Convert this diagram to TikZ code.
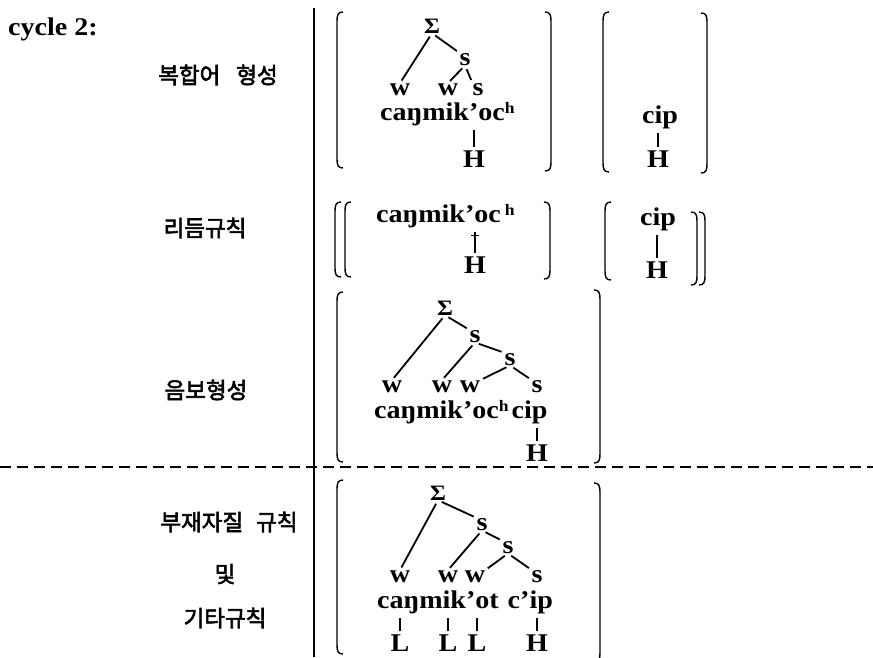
\documentclass[tikz,border=0pt]{standalone}
\usepackage{fontspec}
\setmainfont{Liberation Serif}[FakeStretch=1.1]
\newfontfamily\krfont{Noto Sans CJK KR}[FakeBold=2.6]
\newcommand\suph[1]{{\fontsize{16}{16}\selectfont\raisebox{7pt}{#1}}}
% left and right brackets with short curled ends: x, top, bottom
\newcommand\LBr[3]{\draw[br] (#1+6,#2) .. controls (#1+1,#2) and (#1,#2+3) .. (#1,#2+9) -- (#1,#3-9) .. controls (#1,#3-3) and (#1+1,#3) .. (#1+6,#3);}
\newcommand\RBr[3]{\draw[br] (#1-6,#2) .. controls (#1-1,#2) and (#1,#2+3) .. (#1,#2+9) -- (#1,#3-9) .. controls (#1,#3-3) and (#1-1,#3) .. (#1-6,#3);}
\tikzset{
  tx/.style={font=\fontsize{25.5}{27}\selectfont\bfseries, inner sep=0pt, anchor=base},
  sig/.style={tx, font=\fontsize{22}{24}\selectfont\bfseries},
  lab/.style={font=\krfont\fontsize{22.5}{25}\selectfont, inner sep=0pt},
  br/.style={line width=1.4pt},
  branch/.style={line width=1.8pt, shorten <=4pt, shorten >=3pt},
  tone/.style={line width=1.1pt, shorten <=3pt, shorten >=4pt},
  divider/.style={line width=1.6pt},
  sep/.style={line width=1.5pt, dash pattern=on 11pt off 6pt},
}
\begin{document}
\begin{tikzpicture}[x=1pt,y=-1pt]
\useasboundingbox (0,0) rectangle (873,657);

% heading and rule names
\node[tx, anchor=base west] (cyc) at (8,35) {cycle 2:};
\node[lab] (k1) at (218,75) {복합어\hspace{16pt}형성};
\node[lab] (k2) at (205,228) {리듬규칙};
\node[lab] (k3) at (206,390) {음보형성};
\node[lab] (k4) at (229,522) {부재자질\hspace{13pt}규칙};
\node[lab] (k5) at (225,574) {및};
\node[lab] (k6) at (225,618) {기타규칙};

% divider and separator
\coordinate (dtop) at (314,8);
\coordinate (dbot) at (314,657);
\draw[divider] (dtop) -- (dbot);
\coordinate (sl) at (0,467);
\coordinate (sr) at (873,467);
\draw[sep] (sl) -- (sr);

% ---- row 1: compound formation
\LBr{337}{12}{168}
\RBr{551}{12}{171}
\LBr{603}{12}{172}
\RBr{707}{13}{173}
\node[sig] (aS) at (432,33) {Σ};
\node[tx] (as1) at (465,65) {s};
\node[tx] (aw1) at (400,95) {w};
\node[tx] (aw2) at (448,95) {w};
\node[tx] (as2) at (478,95) {s};
\node[tx, anchor=base west] (aword) at (380,120) {caŋmik’oc\suph{h}};
\node[tx] (aH) at (474,167) {H};
\node[tx] (acip) at (660,123) {cip};
\node[tx] (aH2) at (658,167) {H};
\draw[branch] (aS.south) -- (aw1.north);
\draw[branch] (aS.south) -- (as1.north west);
\draw[branch] (as1.south) -- (aw2.north);
\draw[branch] (as1.south) -- (as2.north west);
\draw[tone] (aH.north) -- (aH.north |- aword.south);
\draw[tone] (aH2.north) -- (aH2.north |- acip.south);

% ---- row 2: rhythm rule
\LBr{335}{202}{277}
\LBr{345}{202}{277}
\RBr{550}{202}{279}
\LBr{605}{202}{280}
\RBr{697}{212}{285}
\RBr{705}{212}{285}
\node[tx, anchor=base west] (bword) at (376,222) {caŋmik’oc\hspace{4pt}\suph{h}};
\node[tx] (bH) at (475,273) {H};
\node[tx] (bcip) at (658,225) {cip};
\node[tx] (bH2) at (657,278) {H};
\draw[tone] (bH.north) -- (bH.north |- bword.south) coordinate[pos=0.72] (bx);
\draw[line width=1.1pt] ([xshift=-4pt]bx) -- ([xshift=4pt]bx);
\draw[tone] (bH2.north) -- (bH2.north |- bcip.south);

% ---- row 3: foot formation
\LBr{337}{292}{462}
\RBr{600}{290}{463}
\node[sig] (cS) at (445,315) {Σ};
\node[tx] (cs1) at (475,342) {s};
\node[tx] (cs2) at (510,365) {s};
\node[tx] (cw1) at (392,392) {w};
\node[tx] (cw2) at (442,392) {w};
\node[tx] (cw3) at (470,392) {w};
\node[tx] (cs3) at (537,392) {s};
\node[tx, anchor=base west] (cword) at (374,418) {caŋmik’oc\suph{h}\hspace{3pt}cip};
\node[tx] (cH) at (537,461) {H};
\draw[branch] (cS.south) -- (cw1.north);
\draw[branch] (cS.south) -- (cs1.north west);
\draw[branch] (cs1.south) -- (cw2.north);
\draw[branch] (cs1.south) -- (cs2.north west);
\draw[branch] (cs2.south) -- (cw3.north east);
\draw[branch] (cs2.south) -- (cs3.north west);
\draw[tone] (cH.north) -- (cH.north |- cword.south);

% ---- row 4: redundant feature rules and others
\LBr{337}{480}{654}
\RBr{600}{483}{662}
\node[sig] (dS) at (438,500) {Σ};
\node[tx] (ds1) at (482,530) {s};
\node[tx] (ds2) at (508,553) {s};
\node[tx] (dw1) at (400,582) {w};
\node[tx] (dw2) at (448,582) {w};
\node[tx] (dw3) at (475,582) {w};
\node[tx] (ds3) at (537,582) {s};
\node[tx, anchor=base west] (dword) at (377,608) {caŋmik’ot\hspace{9pt}c’ip};
\node[tx] (dL1) at (400,651) {L};
\node[tx] (dL2) at (448,651) {L};
\node[tx] (dL3) at (477,651) {L};
\node[tx] (dH) at (537,651) {H};
\draw[branch] (dS.south) -- (dw1.north);
\draw[branch] (dS.south) -- (ds1.north west);
\draw[branch] (ds1.south) -- (dw2.north);
\draw[branch] (ds1.south) -- (ds2.north west);
\draw[branch] (ds2.south) -- (dw3.north east);
\draw[branch] (ds2.south) -- (ds3.north west);
\draw[tone] (dL1.north) -- (dL1.north |- dword.south);
\draw[tone] (dL2.north) -- (dL2.north |- dword.south);
\draw[tone] (dL3.north) -- (dL3.north |- dword.south);
\draw[tone] (dH.north) -- (dH.north |- dword.south);
\end{tikzpicture}
\end{document}
